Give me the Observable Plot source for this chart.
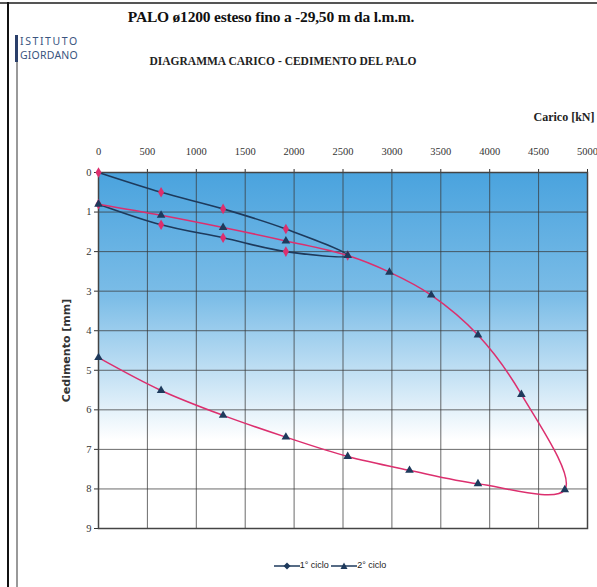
<!DOCTYPE html>
<html><head><meta charset="utf-8">
<script src="https://cdn.jsdelivr.net/npm/d3@7"></script>
<script src="https://cdn.jsdelivr.net/npm/@observablehq/plot@0.6"></script>
<style>
body{margin:0;background:#fff;}
#wrap{position:relative;width:597px;height:587px;overflow:hidden;background:#fff;}
#chart{position:absolute;left:0;top:0;}
.abs{position:absolute;white-space:nowrap;}
.title{left:0;width:542px;top:8px;text-align:center;font-family:"Liberation Serif",serif;font-size:15.5px;font-weight:bold;color:#111;letter-spacing:-0.2px;}
.subtitle{left:0;width:566px;top:55px;text-align:center;font-family:"Liberation Serif",serif;font-size:11.5px;font-weight:bold;color:#222;}
.logo{left:20px;font-family:"Noto Sans",sans-serif;font-size:10.5px;line-height:11px;height:11px;color:#3a5580;}
.legend{left:0;width:660px;top:560px;text-align:center;font-family:"Liberation Sans",sans-serif;font-size:9px;color:#222;}
.legend svg{vertical-align:middle;}
</style></head><body>
<div id="wrap">
  <div id="chart"></div>
  <div class="abs" style="left:0;top:2px;width:597px;height:1.5px;background:#555;"></div>
  <div class="abs" style="left:7px;top:2px;width:2px;height:585px;background:#111;"></div>
  <div class="abs" style="left:16px;top:62px;width:2px;height:525px;background:#999;"></div>
  <div class="abs" style="left:15px;top:35px;width:3px;height:27px;background:#2a3f6a;"></div>
  <div class="abs title">PALO ø1200 esteso fino a -29,50 m da l.m.m.</div>
  <div class="abs logo" style="top:36px;letter-spacing:1.6px;">ISTITUTO</div>
  <div class="abs logo" style="top:50px;letter-spacing:0.2px;">GIORDANO</div>
  <div class="abs subtitle">DIAGRAMMA CARICO - CEDIMENTO DEL PALO</div>
  <div class="abs legend">
    <svg width="26" height="10"><line x1="0" y1="5" x2="26" y2="5" stroke="#1e3a5c" stroke-width="1.5"/><path d="M13,1.5 L16.5,5 L13,8.5 L9.5,5Z" fill="#1e3a5c"/></svg>1° ciclo
    <svg width="26" height="10"><line x1="0" y1="5" x2="26" y2="5" stroke="#1e3a5c" stroke-width="1.5"/><path d="M13,1.5 L16.5,8 L9.5,8Z" fill="#1e3a5c"/></svg>2° ciclo
  </div>
</div>
<script>
// 1° ciclo (loading to ~2550 kN and unloading)
const load1 = [0, 640, 1274, 1916, 2548, 1916, 1274, 640, 0];
const settle1 = [0, 0.50, 0.92, 1.43, 2.10, 2.00, 1.65, 1.32, 0.80];
// 2° ciclo
const load2 = [0, 640, 1274, 1916, 2548, 2975, 3402, 3880, 4324, 4768, 3880, 3180, 2548, 1916, 1274, 640, 0];
const settle2 = [0.80, 1.08, 1.39, 1.73, 2.10, 2.52, 3.10, 4.11, 5.61, 8.02, 7.87, 7.53, 7.18, 6.69, 6.14, 5.51, 4.68];
const xTicks = [0, 500, 1000, 1500, 2000, 2500, 3000, 3500, 4000, 4500, 5000];
const yTicks = [0, 1, 2, 3, 4, 5, 6, 7, 8, 9];

const s1 = load1.map((x, i) => ({x, y: settle1[i]}));
const s2 = load2.map((x, i) => ({x, y: settle2[i]}));
const navy = "#1e3a5c", magenta = "#dc2f6e";

const plot = Plot.plot({
  width: 597, height: 587,
  marginLeft: 98, marginRight: 10, marginTop: 172, marginBottom: 59,
  style: {fontFamily: "Liberation Serif, serif", fontSize: "10.5px", color: "#333", background: "transparent"},
  x: {domain: [0, 5000], ticks: xTicks, axis: "top", tickSize: 4, tickPadding: 14, tickFormat: d => String(d),
      label: "Carico [kN]", labelAnchor: "right", labelArrow: "none", labelOffset: 60},
  y: {domain: [0, 9], reverse: true, ticks: yTicks, tickSize: 4, tickPadding: 3, label: null},
  marks: [
    Plot.frame({fill: "url(#bggrad)", stroke: "none"}),
    Plot.gridX(xTicks, {stroke: "#3a3a3a", strokeOpacity: 0.75, strokeWidth: 1}),
    Plot.gridY(yTicks, {stroke: "#3a3a3a", strokeOpacity: 0.75, strokeWidth: 1}),
    Plot.frame({stroke: "#444", strokeWidth: 1.5}),
    Plot.line(s1, {x: "x", y: "y", stroke: navy, strokeWidth: 1.6, curve: "catmull-rom"}),
    Plot.line(s2, {x: "x", y: "y", stroke: magenta, strokeWidth: 1.5, curve: "catmull-rom"}),
    Plot.dot(s1, {x: "x", y: "y", symbol: "diamond", r: 3.2, fill: magenta, stroke: "none"}),
    Plot.dot(s2, {x: "x", y: "y", symbol: "triangle", r: 3.2, fill: navy, stroke: "none"}),
    Plot.text(["Cedimento [mm]"], {frameAnchor: "left", dx: -32, rotate: -90, text: d => d,
      fontFamily: "DejaVu Sans, sans-serif", fontWeight: "bold", fontSize: 11, fill: "#333",
      textAnchor: "middle", lineAnchor: "middle"})
  ]
});

// gradient definition
const svg = d3.select(plot);
const defs = svg.insert("defs", ":first-child");
const g = defs.append("linearGradient").attr("id", "bggrad").attr("x1", 0).attr("y1", 0).attr("x2", 0).attr("y2", 1);
g.append("stop").attr("offset", "0%").attr("stop-color", "#4aa3de");
g.append("stop").attr("offset", "35%").attr("stop-color", "#7cbde7");
g.append("stop").attr("offset", "75%").attr("stop-color", "#ffffff");
g.append("stop").attr("offset", "100%").attr("stop-color", "#ffffff");
svg.selectAll("[aria-label='x-axis label'] text, [aria-label='x-axis label']").attr("font-weight", "bold").attr("font-size", 12).attr("fill", "#222");

document.getElementById("chart").appendChild(plot);
</script>
</body></html>
